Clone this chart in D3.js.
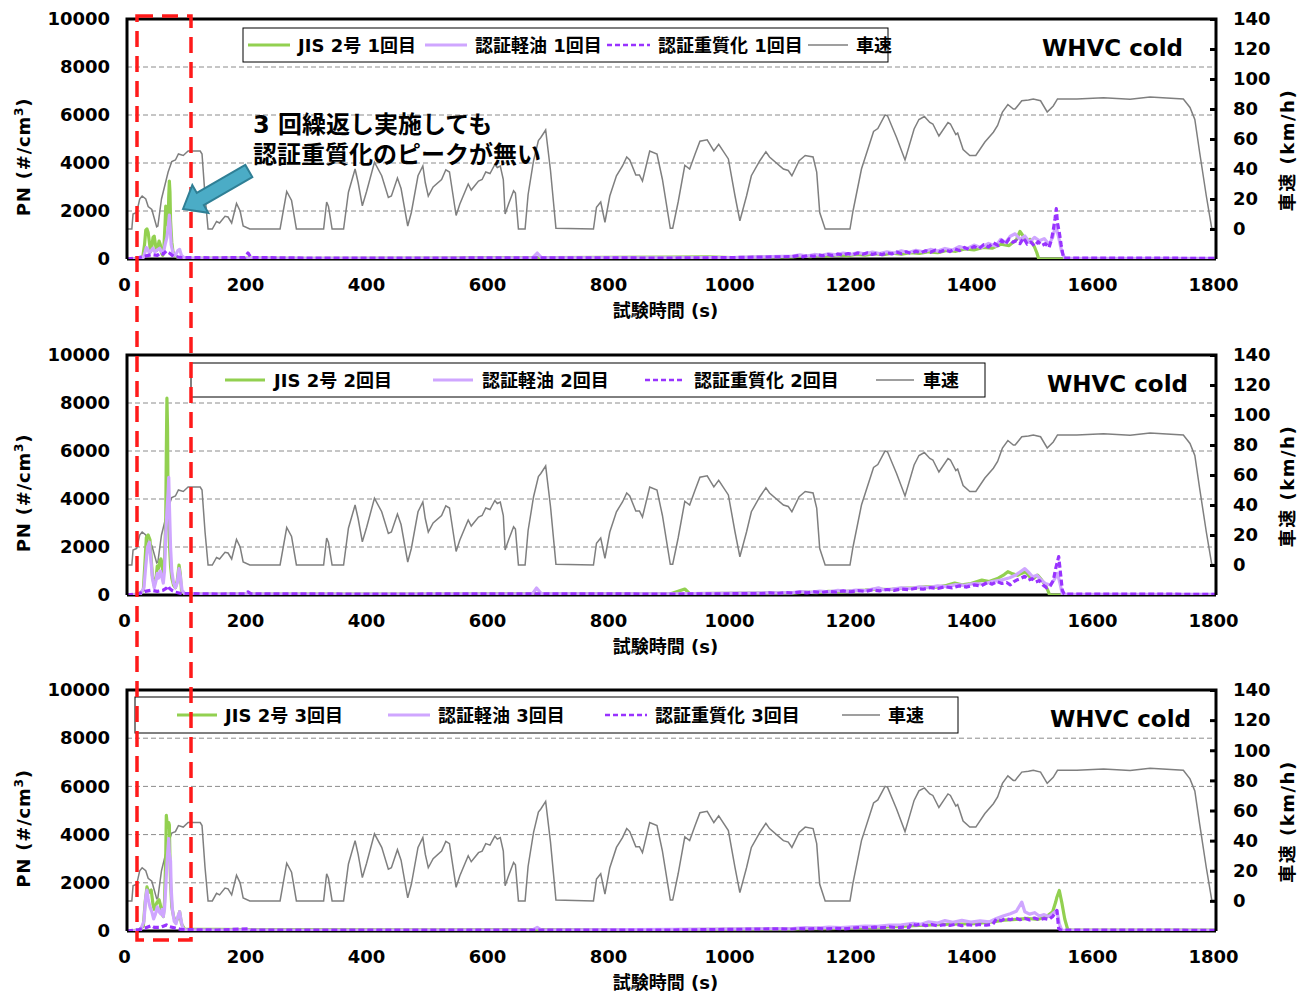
<!DOCTYPE html>
<html>
<head>
<meta charset="utf-8">
<script src="https://cdn.jsdelivr.net/npm/d3@7"></script>
<style>
  body { margin: 0; background: #fff; }
  text { font-family: "DejaVu Sans", "Noto Sans CJK JP", sans-serif; font-weight: bold; }
</style>
</head>
<body>
<svg id="chart" width="1302" height="999"></svg>
<script>
// ---- axis ticks ----
const timeTicks = [0, 200, 400, 600, 800, 1000, 1200, 1400, 1600, 1800];
const pnTicks = [0, 2000, 4000, 6000, 8000, 10000];
const speedTicks = [0, 20, 40, 60, 80, 100, 120, 140];
const runLabels = ["1回目", "2回目", "3回目"];
const seriesNames = ["JIS 2号", "認証軽油", "認証重質化", "車速"];

// ---- vehicle speed, WHVC (time s, km/h) ----
const speedProfile = [[0,0],[8,0],[10,10],[16,11],[21,20],[25,22],[31,20],[35,15],[41,13],[49,1.5],[51,2],[57,20],[68,38],[74,45],[80,46],[85,50],[93,49],[101,52],[121,52],[124,50],[129,22],[134,0],[141,0],[148,5],[153,4],[162,8.5],[167,8],[173,4],[181,17],[187,12],[192,2],[203,0],[253,0],[264,25],[272,19],[280,0],[325,0],[330,18],[333,15],[339,0],[358,0],[366,24.5],[377,40],[382,31],[389,15.5],[396,25],[409,44.5],[421,35.5],[432,21],[437,22],[447,34],[453,27],[464,2],[470,11],[481,35.5],[489,42],[493,31],[498,22],[506,28],[520,33],[527,39.5],[533,38],[544,9],[550,16.5],[564,30],[569,26],[581,32],[587,33],[593,38],[600,37],[608,43],[612,41],[617,42],[622,33],[625,10],[631,17],[639,25.5],[642,24],[647,0],[658,0],[663,23],[672,45.5],[680,59],[684,61],[692,66],[700,39],[709,0.5],[771,0],[776,14.5],[783,18],[790,4.5],[798,22],[809,35.5],[819,42],[826,48],[831,46],[841,36],[847,36],[852,32],[864,52],[876,50],[885,33],[898,0.5],[902,0.5],[911,18],[922,42.5],[930,40],[939,50],[947,58.5],[959,59.5],[970,52],[978,56.5],[994,46.7],[1005,22],[1013,5.5],[1024,22],[1032,35.5],[1046,45.5],[1056,51.5],[1062,48],[1085,40],[1093,39],[1099,35.5],[1111,45.5],[1121,49],[1134,48],[1140,38],[1145,11],[1154,0],[1195,0],[1200,12],[1214,40],[1234,65],[1241,67],[1253,76],[1257,75.5],[1272,61],[1286,46],[1301,66.7],[1309,73],[1318,75],[1327,71],[1332,70],[1342,62],[1357,71],[1361,70],[1370,63],[1373,64],[1382,53],[1393,49],[1403,49],[1418,58],[1432,64.5],[1439,69],[1447,78],[1456,83],[1465,80],[1468,80],[1479,85.5],[1490,86],[1498,86.7],[1510,85.5],[1521,78],[1531,82],[1538,86.7],[1570,86.7],[1614,87.5],[1658,86.5],[1691,88],[1746,86.7],[1757,81],[1765,73],[1773,51],[1784,22],[1793,0.5],[1800,0]];

// ---- particle number (time s, #/cm3), run 1 ----
const jis1 = [[0,0],[18,30],[26,80],[29,600],[31,1200],[33,1250],[35,1100],[37,700],[39,300],[41,500],[43,900],[45,950],[47,600],[49,350],[51,500],[53,750],[55,600],[57,250],[59,150],[61,500],[63,1500],[64,2200],[66,2150],[68,1400],[69,2600],[70,3250],[71,2800],[72,1600],[74,700],[76,300],[79,150],[84,60],[95,30],[150,40],[300,30],[500,40],[700,60],[900,80],[960,90],[1000,60],[1100,90],[1115,130],[1130,100],[1145,150],[1160,120],[1175,170],[1190,130],[1205,190],[1220,160],[1235,220],[1250,180],[1265,240],[1280,200],[1295,260],[1310,230],[1325,300],[1340,260],[1355,360],[1370,320],[1385,420],[1400,380],[1415,480],[1430,450],[1445,620],[1458,560],[1470,800],[1476,1150],[1480,1000],[1486,750],[1493,820],[1500,500],[1504,250],[1507,0],[1800,0]];
const kei1 = [[0,0],[20,20],[27,60],[30,300],[32,480],[34,420],[37,250],[40,350],[43,450],[46,300],[50,380],[54,450],[57,300],[60,250],[63,600],[66,900],[68,1300],[70,1830],[71,1500],[73,600],[76,250],[80,150],[84,350],[87,400],[90,150],[95,40],[150,30],[400,30],[670,40],[678,250],[685,60],[900,50],[1000,60],[1100,120],[1112,170],[1124,120],[1136,190],[1148,150],[1160,220],[1172,170],[1184,250],[1196,190],[1208,270],[1220,210],[1232,290],[1244,230],[1256,300],[1268,250],[1280,340],[1292,270],[1304,360],[1316,300],[1328,400],[1340,330],[1352,440],[1364,370],[1376,520],[1388,430],[1400,580],[1412,470],[1424,650],[1436,540],[1444,820],[1452,680],[1460,950],[1468,1050],[1476,820],[1484,960],[1492,700],[1500,900],[1508,760],[1516,850],[1524,600],[1530,900],[1535,1400],[1540,900],[1545,300],[1550,40],[1800,30]];
const heavy1 = [[0,0],[20,60],[30,120],[40,180],[50,150],[55,250],[60,200],[65,330],[70,250],[75,150],[80,100],[90,60],[150,50],[195,60],[200,250],[205,60],[300,40],[500,40],[700,50],[900,40],[1000,60],[1050,80],[1100,100],[1110,140],[1118,90],[1126,150],[1135,110],[1143,170],[1150,130],[1158,190],[1166,140],[1175,210],[1183,160],[1192,230],[1200,180],[1208,250],[1216,200],[1224,260],[1232,190],[1240,240],[1248,180],[1256,260],[1264,210],[1272,290],[1280,220],[1288,300],[1296,230],[1304,320],[1312,260],[1320,340],[1328,280],[1336,370],[1344,300],[1352,380],[1360,310],[1368,420],[1376,350],[1384,480],[1392,400],[1400,520],[1408,430],[1416,600],[1424,500],[1432,680],[1440,560],[1446,780],[1452,620],[1458,840],[1464,700],[1470,760],[1476,640],[1482,880],[1488,620],[1494,700],[1500,540],[1506,720],[1512,560],[1518,640],[1524,480],[1528,800],[1531,1200],[1534,1700],[1536,2100],[1538,1500],[1541,1100],[1544,600],[1548,40],[1800,30]];

// ---- run 2 ----
const jis2 = [[0,0],[20,40],[27,200],[30,1500],[32,2400],[35,2500],[38,2300],[40,1500],[42,800],[45,400],[48,700],[50,1200],[52,1100],[54,1400],[56,1500],[58,1200],[60,900],[62,1500],[64,3000],[65,6000],[66,8200],[67,7000],[68,3500],[70,2200],[72,1200],[74,700],[77,400],[80,300],[83,600],[86,1250],[88,900],[90,200],[95,50],[200,40],[500,40],[900,60],[922,250],[930,60],[1100,80],[1120,120],[1140,100],[1160,150],[1180,130],[1200,170],[1220,200],[1240,250],[1260,230],[1280,280],[1300,300],[1320,340],[1340,330],[1355,400],[1368,500],[1380,420],[1395,480],[1413,620],[1425,560],[1440,700],[1450,850],[1456,970],[1464,880],[1472,820],[1478,900],[1485,970],[1492,760],[1499,700],[1505,830],[1512,620],[1518,400],[1522,200],[1525,0],[1800,0]];
const kei2 = [[0,0],[22,30],[28,300],[31,1200],[34,2000],[37,2200],[39,1600],[42,700],[45,300],[48,600],[50,900],[52,700],[55,1000],[58,700],[60,500],[62,1000],[64,2500],[66,3500],[68,4300],[69,4900],[70,3800],[72,2000],[74,1000],[77,500],[80,300],[83,500],[86,1100],[88,800],[91,200],[96,40],[300,30],[670,40],[677,290],[685,50],[900,50],[1100,100],[1115,140],[1130,110],[1145,160],[1160,130],[1175,190],[1190,150],[1205,200],[1220,180],[1235,260],[1242,300],[1250,220],[1265,250],[1280,300],[1295,270],[1310,340],[1325,310],[1340,380],[1355,350],[1370,430],[1385,400],[1400,480],[1415,450],[1430,560],[1445,620],[1459,720],[1468,820],[1476,960],[1484,1100],[1490,950],[1497,760],[1504,820],[1511,620],[1518,480],[1526,420],[1533,650],[1538,900],[1542,500],[1546,40],[1800,30]];
const heavy2 = [[0,0],[20,60],[30,150],[40,200],[50,150],[60,200],[66,300],[68,380],[70,280],[75,180],[80,120],[90,60],[150,40],[195,50],[200,130],[205,50],[400,40],[700,50],[900,40],[1050,60],[1062,90],[1075,60],[1088,100],[1100,80],[1112,120],[1124,90],[1136,130],[1148,100],[1160,150],[1172,120],[1184,170],[1196,130],[1208,180],[1220,150],[1232,210],[1244,170],[1256,230],[1268,190],[1280,250],[1292,220],[1304,280],[1316,240],[1328,310],[1340,270],[1352,340],[1364,300],[1376,380],[1388,330],[1400,420],[1412,380],[1422,520],[1430,450],[1438,560],[1446,480],[1454,520],[1460,420],[1466,560],[1472,640],[1478,700],[1484,780],[1490,620],[1496,680],[1502,540],[1508,600],[1514,420],[1520,300],[1526,380],[1531,600],[1535,1100],[1538,1400],[1540,1600],[1543,900],[1546,200],[1549,40],[1800,30]];

// ---- run 3 ----
const jis3 = [[0,0],[20,40],[27,200],[30,1200],[33,1830],[36,1600],[40,1700],[43,1100],[45,900],[48,1100],[50,1200],[53,1300],[55,1100],[58,700],[60,600],[62,1200],[64,3000],[65,4800],[67,4300],[69,4500],[70,4400],[71,3000],[72,2000],[74,1000],[77,600],[80,400],[84,500],[87,800],[90,300],[95,80],[200,60],[500,50],[900,60],[1100,80],[1130,110],[1160,100],[1200,130],[1240,160],[1280,190],[1300,220],[1330,250],[1360,280],[1400,300],[1430,380],[1450,450],[1470,480],[1490,520],[1505,480],[1520,600],[1530,800],[1535,1200],[1537,1400],[1541,1680],[1545,1200],[1550,500],[1555,50],[1800,40]];
const kei3 = [[0,0],[22,30],[28,400],[31,1400],[33,1700],[35,1300],[38,1000],[41,800],[44,500],[47,700],[50,1000],[53,800],[56,700],[58,900],[60,600],[62,900],[64,1800],[66,2800],[68,3500],[69,3830],[70,3200],[72,2900],[73,1800],[75,900],[78,400],[81,300],[84,600],[87,800],[89,500],[92,120],[97,40],[300,30],[670,40],[678,150],[685,40],[1100,100],[1120,140],[1140,120],[1160,160],[1180,140],[1200,170],[1220,200],[1240,190],[1260,240],[1280,260],[1300,320],[1312,280],[1325,380],[1340,330],[1352,430],[1365,360],[1380,440],[1395,370],[1410,420],[1425,380],[1437,520],[1448,620],[1460,720],[1470,820],[1479,1200],[1484,800],[1492,700],[1500,760],[1508,620],[1516,680],[1524,600],[1530,720],[1537,850],[1541,300],[1545,40],[1800,30]];
const heavy3 = [[0,0],[20,60],[30,120],[40,220],[45,150],[55,150],[60,200],[65,250],[70,180],[80,120],[90,60],[150,40],[200,90],[205,40],[500,40],[900,40],[1080,90],[1095,70],[1110,100],[1125,80],[1140,110],[1155,85],[1170,110],[1185,90],[1200,120],[1212,150],[1224,130],[1236,160],[1248,140],[1260,170],[1272,140],[1284,160],[1293,150],[1296,300],[1304,240],[1312,290],[1320,220],[1330,270],[1340,210],[1350,260],[1360,230],[1370,280],[1380,220],[1390,260],[1400,230],[1410,270],[1420,240],[1431,280],[1437,500],[1445,430],[1452,520],[1460,470],[1468,540],[1476,470],[1484,530],[1492,460],[1500,540],[1508,470],[1516,520],[1524,480],[1530,600],[1534,750],[1537,850],[1540,100],[1543,40],[1800,30]];

const runs = [
  { jis: jis1, kei: kei1, heavy: heavy1 },
  { jis: jis2, kei: kei2, heavy: heavy2 },
  { jis: jis3, kei: kei3, heavy: heavy3 }
];

// ---- layout ----
const X0 = 127, X1 = 1216;
const panels = [
  { top: 19,  bottom: 259, box: [243, 28, 888, 62],  items: [248, 425, 607, 808], lineLen: [42, 42, 43, 40], textGap: 8, titleRight: 1183 },
  { top: 355, bottom: 595, box: [191, 363, 985, 397], items: [225, 433, 645, 876], lineLen: [40, 40, 40, 38], textGap: 9, titleRight: 1188 },
  { top: 690, bottom: 931, box: [135, 697, 958, 733], items: [177, 388, 605, 842], lineLen: [40, 42, 42, 38], textGap: 8, titleRight: 1191 }
];
const colors = { jis: "#92d050", kei: "#cfa6ff", heavy: "#9933ff", speed: "#7f7f7f" };

const svg = d3.select("#chart");
const x = d3.scaleLinear().domain([0, 1800]).range([X0, X1]);
const plain = d3.format("d");

function styleTicks(sel) {
  sel.selectAll("text").attr("font-size", 18).attr("fill", "#000")
    .style("font-family", '"DejaVu Sans", sans-serif').style("font-weight", "bold");
}

panels.forEach((p, i) => {
  const yPn = d3.scaleLinear().domain([0, 10000]).range([p.bottom, p.top]);
  const ySp = d3.scaleLinear().domain([-20, 140]).range([p.bottom, p.top]);
  const g = svg.append("g");
  const mid = (p.top + p.bottom) / 2;

  const clipId = "clip" + i;
  g.append("clipPath").attr("id", clipId).append("rect")
    .attr("x", X0).attr("y", p.top).attr("width", X1 - X0).attr("height", p.bottom - p.top);

  // dashed grid
  g.append("g").selectAll("line").data(pnTicks.filter(v => v > 0 && v < 10000)).join("line")
    .attr("x1", X0).attr("x2", X1)
    .attr("y1", d => yPn(d)).attr("y2", d => yPn(d))
    .attr("stroke", "#8c8c8c").attr("stroke-width", 1).attr("stroke-dasharray", "5,3");

  // x axis baseline
  g.append("line").attr("x1", X0).attr("x2", X1).attr("y1", p.bottom).attr("y2", p.bottom)
    .attr("stroke", "#000").attr("stroke-width", 3);

  const plot = g.append("g").attr("clip-path", `url(#${clipId})`);

  // vehicle speed
  plot.append("path").datum(speedProfile)
    .attr("d", d3.line().x(d => x(d[0])).y(d => ySp(d[1])))
    .attr("fill", "none").attr("stroke", colors.speed).attr("stroke-width", 1.5);

  const pnLine = d3.line().x(d => x(d[0])).y(d => yPn(d[1]));
  const r = runs[i];
  plot.append("path").datum(r.jis).attr("d", pnLine)
    .attr("fill", "none").attr("stroke", colors.jis).attr("stroke-width", 3.2).attr("stroke-linejoin", "round");
  plot.append("path").datum(r.kei).attr("d", pnLine)
    .attr("fill", "none").attr("stroke", colors.kei).attr("stroke-width", 3.2).attr("stroke-linejoin", "round");
  plot.append("path").datum(r.heavy).attr("d", pnLine)
    .attr("fill", "none").attr("stroke", colors.heavy).attr("stroke-width", 3.2)
    .attr("stroke-dasharray", "6,3").attr("stroke-linejoin", "round");

  // frame: left, top, right
  g.append("path")
    .attr("d", `M${X0},${p.bottom}V${p.top}H${X1}V${p.bottom}`)
    .attr("fill", "none").attr("stroke", "#000").attr("stroke-width", 3);

  // left axis labels
  const left = g.append("g").attr("transform", `translate(${X0},0)`)
    .call(d3.axisLeft(yPn).tickValues(pnTicks).tickFormat(plain).tickSize(0).tickPadding(17));
  left.select(".domain").remove();
  styleTicks(left);

  // right axis with inward ticks
  const right = g.append("g").attr("transform", `translate(${X1},0)`)
    .call(d3.axisRight(ySp).tickValues(speedTicks).tickFormat(plain).tickSize(-6).tickPadding(17));
  right.select(".domain").remove();
  right.selectAll("line").attr("stroke", "#000").attr("stroke-width", 3);
  styleTicks(right);

  // bottom axis labels
  const bottom = g.append("g").attr("transform", `translate(-3,${p.bottom})`)
    .call(d3.axisBottom(x).tickValues(timeTicks).tickFormat(plain).tickSize(0).tickPadding(19));
  bottom.select(".domain").remove();
  styleTicks(bottom);

  // axis titles
  g.append("text").attr("x", (X0 + X1) / 2 - 6).attr("y", p.bottom + 58)
    .attr("text-anchor", "middle").attr("font-size", 18).text("試験時間 (s)");
  const pnTitle = g.append("text")
    .attr("transform", `translate(30,${mid + 18}) rotate(-90)`)
    .attr("text-anchor", "middle").attr("font-size", 18).attr("letter-spacing", 0.8);
  pnTitle.append("tspan").text("PN (#/cm");
  pnTitle.append("tspan").attr("font-size", 12).attr("dy", -7).text("3");
  pnTitle.append("tspan").attr("dy", 7).text(")");
  g.append("text")
    .attr("transform", `translate(1294,${mid + 11}) rotate(-90)`)
    .attr("text-anchor", "middle").attr("font-size", 18).attr("letter-spacing", 1.5).text("車速 (km/h)");

  // cycle label
  g.append("text").attr("x", p.titleRight).attr("y", p.top + 37)
    .attr("text-anchor", "end").attr("font-size", 23)
    .style("font-family", '"DejaVu Sans", sans-serif').text("WHVC cold");

  // legend
  const [bx0, by0, bx1, by1] = p.box;
  const lg = g.append("g");
  lg.append("rect").attr("x", bx0).attr("y", by0).attr("width", bx1 - bx0).attr("height", by1 - by0)
    .attr("fill", "#fff").attr("stroke", "#000").attr("stroke-width", 1);
  const cy = (by0 + by1) / 2;
  const styles = [
    { c: colors.jis, w: 3, dash: null },
    { c: colors.kei, w: 3, dash: null },
    { c: colors.heavy, w: 2.5, dash: "5,3" },
    { c: colors.speed, w: 1.5, dash: null }
  ];
  seriesNames.forEach((name, k) => {
    const lx = p.items[k];
    lg.append("line").attr("x1", lx).attr("x2", lx + p.lineLen[k]).attr("y1", cy).attr("y2", cy)
      .attr("stroke", styles[k].c).attr("stroke-width", styles[k].w)
      .attr("stroke-dasharray", styles[k].dash);
    lg.append("text").attr("x", lx + p.lineLen[k] + p.textGap).attr("y", cy + 6.5)
      .attr("font-size", 18)
      .text(k < 3 ? `${name} ${runLabels[i]}` : name);
  });
});

// highlighted start-up window
svg.append("rect").attr("x", 137).attr("y", 16).attr("width", 54).attr("height", 924)
  .attr("fill", "none").attr("stroke", "#ff1a1a").attr("stroke-width", 3.5)
  .attr("stroke-dasharray", "16,9");

// annotation
svg.append("text").attr("x", 253).attr("y", 133).attr("font-size", 24).text("3 回繰返し実施しても");
svg.append("text").attr("x", 253).attr("y", 163).attr("font-size", 24).text("認証重質化のピークが無い");

const L = 76, hl = 20, hw = 16, sw = 7;
const arrowPts = [[0, 0], [hl, -hw], [hl, -sw], [L, -sw], [L, sw], [hl, sw], [hl, hw]];
svg.append("polygon")
  .attr("points", arrowPts.map(d => d.join(",")).join(" "))
  .attr("transform", "translate(183,209) rotate(-30)")
  .attr("fill", "#4bacc6").attr("stroke", "#2f7f95").attr("stroke-width", 2)
  .attr("stroke-linejoin", "miter");
</script>
</body>
</html>
